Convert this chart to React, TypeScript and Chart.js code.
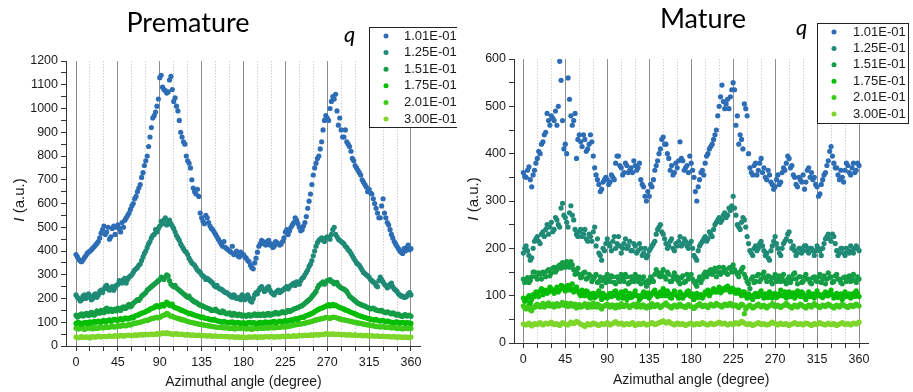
import React, { useEffect, useRef } from "react";
import { Chart, registerables } from "chart.js";

Chart.register(...registerables);

// ---------------- data ----------------
// Two interleaved azimuthal sampling grids: 0,3,...,360 (A) and 1.5,4.5,...,358.5 (B)
const ANGLES_A: number[] = Array.from({ length: 121 }, (_, i) => i * 3);
const ANGLES_B: number[] = Array.from({ length: 120 }, (_, i) => i * 3 + 1.5);

const X_TICK_LABELS = [0, 45, 90, 135, 180, 225, 270, 315, 360];
const X_MINOR_STEP = 15;
const Y_TICKS_PREMATURE = [0, 100, 200, 300, 400, 500, 600, 700, 800, 900, 1000, 1100, 1200];
const Y_TICKS_MATURE = [0, 100, 200, 300, 400, 500, 600];

const Q_LABELS = ["1.01E-01", "1.25E-01", "1.51E-01", "1.75E-01", "2.01E-01", "3.00E-01"];
const COLORS = ["#2d6db5", "#1f8a76", "#149d45", "#05bd05", "#3ccb18", "#7ed62a"];

// ---- Premature ----
const PRE_101_A = [
  385, 365, 355, 372, 390, 400, 412, 425, 440, 475, 505, 480, 450, 495, 470,
  510, 480, 500, 540, 560, 590, 620, 650, 680, 730, 780, 840, 920, 970, 1010,
  1130, 1090, 1075, 1070, 1135, 1030, 1010, 950, 880, 850, 780, 750, 665, 640, 630,
  540, 515, 540, 505, 490, 470, 450, 430, 440, 410, 400, 420, 390, 380, 395,
  385, 370, 355, 330, 350, 395, 430, 440, 425, 445, 430, 420, 435, 425, 440,
  480, 470, 500, 520, 530, 500, 490, 520, 580, 640, 720, 770, 800, 860, 950,
  960, 1000, 1050, 1060, 930, 910, 880, 860, 840, 790, 760, 740, 720, 690, 670,
  660, 640, 600, 560, 540, 620, 540, 510, 470, 440, 420, 400, 390, 400, 425,
  410,
];
const PRE_101_B = [
  375, 358, 362, 380, 395, 405, 418, 432, 455, 490, 470, 500, 460, 505, 500,
  495, 520, 530, 550, 575, 600, 630, 665, 710, 760, 800, 880, 960, 985, 1040,
  1140, 1080, 1065, 1120, 1080, 1045, 990, 900, 860, 800, 770, 700, 650, 660, 560,
  525, 550, 520, 495, 480, 460, 440, 420, 415, 405, 395, 385, 400, 375, 385,
  375, 360, 340, 325, 370, 420, 445, 430, 440, 425, 415, 440, 430, 430, 455,
  490, 485, 510, 540, 515, 485, 505, 545, 610, 680, 750, 790, 830, 910, 970,
  950, 1030, 1040, 990, 960, 880, 910, 850, 820, 780, 750, 730, 700, 680, 650,
  645, 620, 580, 540, 590, 560, 520, 490, 455, 430, 410, 395, 410, 415, 405,
];
const PRE_125_A = [
  215, 200, 195, 215, 205, 210, 200, 220, 215, 235, 240, 255, 235, 250, 245,
  260, 270, 280, 265, 290, 300, 320, 330, 345, 375, 400, 430, 455, 470, 480,
  505, 515, 540, 520, 515, 495, 465, 445, 420, 400, 385, 360, 345, 330, 315,
  300, 290, 285, 275, 265, 250, 245, 240, 230, 225, 215, 205, 210, 200, 195,
  210, 200, 205, 185, 215, 220, 245, 240, 235, 250, 225, 215, 230, 225, 235,
  245, 240, 255, 265, 270, 260, 285, 300, 320, 345, 380, 420, 445, 455, 440,
  460, 450, 490, 470, 450, 440, 430, 415, 400, 380, 360, 345, 330, 310, 300,
  290, 275, 265, 250, 290, 270, 255, 250, 265, 240, 230, 215, 210, 205, 220,
  215,
];
const PRE_125_B = [
  205, 190, 210, 200, 220, 195, 215, 205, 230, 225, 250, 240, 245, 235, 255,
  275, 265, 285, 280, 295, 310, 325, 340, 360, 390, 415, 440, 465, 490, 495,
  525, 530, 510, 530, 505, 480, 455, 430, 410, 395, 370, 350, 340, 320, 310,
  295, 280, 280, 270, 255, 255, 240, 235, 225, 220, 210, 215, 200, 205, 215,
  195, 215, 190, 200, 225, 235, 250, 230, 245, 235, 220, 225, 235, 230, 240,
  250, 250, 260, 255, 265, 275, 290, 310, 335, 360, 400, 435, 450, 445, 455,
  455, 470, 500, 460, 445, 435, 420, 405, 390, 370, 350, 340, 320, 305, 295,
  280, 270, 255, 275, 280, 260, 245, 260, 250, 235, 220, 210, 205, 210, 225,
];
const PRE_151_A = [
  130, 125, 135, 128, 138, 132, 140, 135, 145, 150, 140, 160, 150, 145, 155,
  160, 150, 165, 160, 175, 170, 185, 195, 200, 215, 225, 240, 250, 260, 270,
  280, 285, 290, 295, 260, 250, 245, 235, 225, 215, 205, 200, 190, 185, 175,
  170, 165, 160, 155, 150, 155, 145, 140, 145, 135, 140, 130, 135, 128, 132,
  130, 125, 132, 128, 135, 130, 128, 135, 130, 138, 132, 135, 140, 138, 145,
  140, 150, 148, 155, 160, 165, 170, 180, 190, 200, 215, 230, 255, 265, 260,
  275, 280, 270, 265, 255, 245, 240, 230, 210, 200, 190, 180, 175, 170, 165,
  160, 158, 155, 150, 148, 145, 140, 142, 135, 138, 130, 128, 125, 132, 128,
  125,
];
const PRE_151_B = [
  122, 132, 126, 136, 128, 142, 130, 148, 138, 145, 155, 145, 155, 150, 148,
  155, 162, 158, 170, 165, 180, 190, 192, 210, 220, 235, 245, 255, 265, 275,
  290, 280, 300, 275, 255, 255, 240, 230, 220, 210, 210, 195, 185, 180, 172,
  168, 162, 158, 150, 152, 148, 142, 148, 138, 138, 132, 138, 130, 134, 126,
  128, 130, 126, 132, 128, 134, 132, 128, 136, 130, 136, 142, 135, 142, 140,
  146, 145, 152, 158, 162, 168, 175, 185, 195, 208, 222, 245, 260, 270, 268,
  278, 272, 262, 268, 250, 242, 235, 220, 205, 195, 185, 178, 172, 168, 162,
  156, 160, 152, 148, 150, 142, 144, 138, 140, 132, 134, 126, 130, 126, 130,
];
const PRE_175_A = [
  95, 100, 92, 98, 95, 102, 98, 100, 105, 100, 108, 104, 110, 106, 112,
  108, 115, 112, 118, 115, 122, 125, 130, 135, 140, 145, 150, 158, 162, 170,
  165, 175, 178, 180, 170, 165, 160, 155, 150, 145, 140, 138, 132, 128, 125,
  120, 118, 115, 112, 110, 108, 105, 102, 104, 100, 98, 102, 96, 100, 95,
  98, 94, 100, 96, 98, 95, 100, 97, 102, 98, 100, 104, 100, 105, 102,
  108, 105, 110, 112, 115, 118, 122, 125, 130, 135, 140, 148, 155, 160, 165,
  170, 168, 175, 172, 165, 160, 155, 150, 145, 140, 135, 130, 125, 122, 118,
  115, 112, 110, 108, 105, 108, 102, 104, 100, 98, 102, 96, 100, 95, 98,
  95,
];
const PRE_175_B = [
  98, 94, 96, 100, 99, 96, 104, 102, 100, 106, 102, 108, 104, 112, 108,
  112, 110, 118, 114, 120, 118, 128, 132, 138, 142, 148, 155, 160, 168, 165,
  172, 168, 185, 172, 176, 162, 158, 152, 148, 142, 136, 134, 130, 126, 122,
  122, 116, 114, 110, 112, 106, 104, 100, 101, 99, 100, 97, 98, 97, 98,
  96, 97, 98, 99, 94, 98, 96, 100, 99, 101, 102, 98, 103, 101, 104,
  104, 108, 108, 114, 112, 120, 120, 128, 132, 138, 145, 152, 158, 162, 168,
  174, 172, 170, 168, 162, 158, 152, 148, 142, 138, 132, 128, 124, 120, 116,
  113, 110, 112, 106, 107, 104, 105, 101, 99, 101, 98, 99, 97, 99, 96,
];
const PRE_201_A = [
  75, 72, 78, 70, 74, 76, 72, 78, 75, 80, 77, 82, 79, 84, 80,
  86, 83, 88, 85, 90, 92, 95, 98, 100, 104, 108, 110, 115, 118, 122,
  120, 128, 132, 135, 125, 122, 118, 115, 110, 108, 104, 100, 98, 95, 92,
  90, 88, 86, 84, 82, 80, 78, 80, 76, 78, 74, 76, 72, 75, 73,
  76, 72, 74, 71, 75, 73, 76, 74, 77, 75, 78, 76, 80, 78, 82,
  80, 84, 85, 88, 90, 92, 94, 96, 100, 102, 106, 110, 112, 115, 118,
  120, 116, 122, 120, 116, 112, 110, 108, 105, 102, 100, 97, 95, 92, 90,
  88, 86, 84, 82, 80, 82, 78, 80, 76, 78, 74, 76, 72, 75, 73,
  74,
];
const PRE_201_B = [
  73, 76, 74, 73, 77, 74, 76, 74, 79, 76, 80, 78, 82, 80, 83,
  84, 87, 85, 89, 88, 94, 96, 100, 102, 106, 107, 113, 116, 120, 118,
  125, 130, 138, 128, 126, 120, 116, 112, 110, 105, 102, 99, 96, 94, 91,
  89, 87, 85, 83, 81, 79, 79, 77, 77, 75, 75, 73, 74, 74, 75,
  74, 73, 72, 73, 74, 75, 75, 76, 76, 77, 77, 78, 79, 80, 80,
  82, 83, 87, 89, 91, 93, 95, 98, 101, 104, 108, 111, 114, 116, 121,
  118, 120, 121, 118, 114, 111, 109, 106, 104, 101, 98, 96, 94, 91, 89,
  87, 85, 83, 81, 81, 80, 79, 78, 77, 76, 75, 74, 74, 74, 74,
];
const PRE_300_A = [
  38, 35, 40, 36, 38, 34, 40, 37, 42, 38, 41, 39, 43, 40, 44,
  41, 45, 42, 44, 46, 43, 47, 45, 48, 46, 49, 47, 50, 48, 52,
  50, 55, 52, 54, 51, 49, 52, 48, 50, 46, 48, 45, 47, 44, 46,
  43, 45, 42, 44, 41, 43, 40, 42, 39, 41, 38, 40, 37, 39, 36,
  38, 35, 39, 37, 40, 36, 39, 37, 40, 38, 41, 37, 40, 38, 42,
  39, 43, 40, 44, 41, 45, 43, 46, 44, 47, 45, 48, 46, 49, 50,
  52, 49, 51, 48, 50, 47, 49, 46, 48, 45, 47, 44, 46, 43, 45,
  42, 44, 41, 43, 40, 42, 39, 41, 38, 40, 37, 39, 36, 38, 35,
  38,
];
const PRE_300_B = [
  36, 38, 37, 39, 36, 38, 38, 40, 39, 40, 40, 41, 41, 42, 42,
  43, 43, 43, 45, 44, 45, 46, 47, 47, 48, 48, 49, 49, 50, 51,
  53, 53, 56, 52, 50, 51, 50, 49, 48, 47, 47, 46, 45, 45, 44,
  44, 43, 43, 42, 42, 41, 41, 40, 40, 39, 39, 38, 38, 37, 37,
  36, 37, 38, 38, 38, 38, 38, 39, 39, 39, 39, 39, 39, 40, 40,
  41, 41, 42, 42, 43, 44, 44, 45, 45, 46, 47, 47, 48, 48, 51,
  50, 50, 50, 49, 49, 48, 47, 47, 46, 46, 45, 45, 44, 44, 43,
  43, 42, 42, 41, 41, 40, 40, 39, 39, 38, 38, 37, 37, 37, 37,
];

// ---- Mature ----
const MAT_101_A = [
  360, 350, 372, 330, 365, 390, 400, 425, 445, 470, 480, 470, 460, 595, 470,
  420, 560, 480, 470, 390, 440, 415, 430, 410, 440, 395, 355, 335, 325, 345,
  345, 340, 350, 380, 395, 370, 360, 375, 365, 360, 375, 370, 345, 330, 300,
  310, 330, 365, 385, 410, 435, 420, 390, 375, 360, 370, 425, 385, 370, 360,
  380, 350, 300, 345, 365, 380, 400, 415, 430, 450, 500, 545, 495, 515, 520,
  550, 460, 420, 430, 505, 480, 370, 355, 380, 365, 390, 370, 345, 355, 335,
  330, 355, 340, 370, 380, 390, 375, 350, 330, 345, 355, 340, 370, 360, 350,
  330, 315, 345, 360, 385, 415, 380, 370, 345, 350, 365, 375, 355, 380, 365,
  375,
];
const MAT_101_B = [
  352, 365, 345, 355, 380, 405, 420, 440, 485, 460, 475, 490, 500, 555, 410,
  400, 515, 460, 485, 430, 425, 440, 405, 420, 425, 370, 345, 320, 340, 350,
  335, 355, 345, 395, 375, 355, 380, 360, 370, 385, 365, 380, 335, 310, 320,
  335, 345, 375, 400, 430, 420, 400, 365, 355, 380, 385, 390, 365, 375, 395,
  365, 320, 330, 360, 355, 395, 410, 420, 440, 480, 520, 510, 505, 495, 535,
  535, 480, 440, 410, 495, 400, 360, 375, 355, 380, 360, 350, 365, 340, 325,
  345, 335, 360, 365, 395, 370, 355, 335, 350, 340, 325, 365, 350, 345, 335,
  310, 335, 355, 375, 405, 395, 370, 355, 365, 340, 380, 360, 370, 360, 380,
];
const MAT_125_A = [
  190, 205, 185, 180, 215, 225, 210, 235, 240, 230, 255, 240, 260, 245, 295,
  265, 245, 290, 260, 230, 235, 225, 240, 215, 225, 235, 205, 190, 175, 195,
  220, 205, 215, 200, 225, 190, 210, 200, 215, 195, 205, 195, 200, 190, 180,
  195, 205, 215, 240, 250, 230, 210, 205, 220, 195, 205, 225, 210, 215, 200,
  215, 185, 175, 205, 215, 225, 220, 230, 240, 255, 265, 260, 275, 270, 280,
  310, 270, 245, 255, 260, 225, 195, 185, 205, 200, 215, 195, 190, 175, 205,
  225, 200, 185, 210, 220, 235, 200, 195, 190, 200, 195, 205, 190, 200, 185,
  205, 195, 200, 220, 230, 215, 225, 195, 190, 200, 185, 195, 205, 190, 205,
  195,
];
const MAT_125_B = [
  200, 195, 175, 200, 220, 215, 230, 225, 250, 245, 235, 265, 250, 285, 270,
  255, 275, 270, 240, 225, 240, 230, 220, 230, 215, 245, 220, 185, 200, 210,
  210, 195, 225, 210, 205, 200, 220, 205, 195, 210, 190, 210, 185, 200, 185,
  200, 210, 230, 245, 235, 220, 200, 215, 200, 210, 215, 205, 220, 205, 210,
  200, 180, 195, 210, 220, 215, 235, 225, 250, 260, 255, 270, 265, 285, 290,
  285, 250, 240, 265, 245, 210, 190, 200, 195, 210, 205, 185, 180, 195, 215,
  210, 190, 200, 215, 230, 215, 205, 185, 200, 190, 205, 195, 200, 195, 195,
  200, 185, 210, 225, 220, 230, 210, 185, 200, 190, 200, 190, 195, 200, 200,
];
const MAT_151_A = [
  135, 130, 128, 140, 150, 135, 145, 150, 140, 155, 148, 160, 155, 165, 170,
  160, 168, 172, 155, 150, 145, 140, 150, 138, 142, 135, 145, 130, 120, 138,
  145, 130, 140, 125, 135, 145, 130, 140, 128, 135, 145, 130, 125, 140, 120,
  128, 135, 145, 150, 140, 155, 135, 145, 130, 148, 140, 125, 142, 130, 135,
  145, 130, 120, 140, 135, 150, 145, 155, 150, 140, 160, 150, 155, 145, 160,
  165, 150, 140, 155, 145, 130, 115, 140, 130, 145, 135, 150, 130, 140, 125,
  145, 135, 130, 145, 125, 140, 135, 148, 125, 140, 130, 145, 135, 125, 140,
  130, 145, 135, 125, 148, 140, 130, 145, 135, 125, 140, 135, 130, 145, 128,
  135,
];
const MAT_151_B = [
  128, 138, 132, 150, 140, 148, 135, 145, 152, 142, 158, 150, 162, 158, 165,
  172, 160, 165, 145, 158, 138, 148, 135, 145, 130, 140, 128, 140, 132, 128,
  135, 142, 128, 140, 130, 138, 145, 125, 140, 130, 138, 140, 135, 128, 132,
  140, 130, 155, 142, 148, 140, 150, 130, 140, 135, 130, 138, 128, 145, 140,
  135, 125, 132, 128, 145, 140, 152, 145, 158, 150, 145, 160, 148, 158, 150,
  155, 145, 150, 160, 138, 125, 135, 128, 142, 130, 145, 138, 142, 130, 138,
  130, 142, 138, 130, 135, 128, 145, 135, 140, 128, 140, 135, 128, 138, 132,
  140, 128, 142, 135, 138, 128, 142, 135, 128, 138, 130, 142, 138, 132, 140,
];
const MAT_175_A = [
  95, 90, 100, 92, 98, 105, 110, 102, 112, 108, 115, 105, 118, 112, 120,
  110, 122, 115, 108, 118, 105, 112, 100, 108, 95, 105, 98, 110, 92, 100,
  95, 105, 100, 110, 95, 108, 100, 92, 105, 98, 110, 100, 95, 108, 100,
  95, 105, 112, 98, 108, 115, 100, 105, 95, 110, 100, 108, 95, 102, 110,
  98, 92, 105, 100, 95, 108, 112, 105, 115, 108, 118, 110, 112, 120, 108,
  115, 105, 112, 100, 108, 95, 100, 92, 105, 98, 110, 95, 102, 108, 95,
  105, 98, 112, 100, 95, 108, 102, 95, 110, 98, 105, 92, 108, 100, 95,
  110, 102, 96, 108, 100, 112, 95, 105, 100, 92, 108, 100, 95, 105, 110,
  98,
];
const MAT_175_B = [
  88, 96, 85, 102, 108, 98, 115, 108, 105, 118, 110, 112, 108, 122, 115,
  118, 112, 125, 115, 110, 100, 105, 110, 98, 104, 96, 105, 100, 105, 96,
  102, 98, 108, 100, 104, 95, 110, 100, 96, 104, 100, 92, 102, 98, 106,
  100, 108, 102, 105, 100, 108, 110, 96, 104, 102, 95, 104, 100, 108, 100,
  104, 98, 96, 102, 100, 104, 100, 110, 108, 112, 106, 115, 118, 112, 116,
  108, 112, 104, 108, 100, 104, 96, 102, 98, 106, 100, 104, 96, 100, 104,
  96, 104, 100, 108, 102, 98, 106, 100, 102, 108, 96, 100, 98, 104, 102,
  100, 98, 104, 100, 106, 102, 100, 96, 104, 100, 98, 104, 100, 98, 104,
];
const MAT_201_A = [
  78, 72, 80, 68, 75, 82, 76, 84, 78, 85, 80, 76, 83, 79, 86,
  80, 77, 84, 79, 74, 81, 77, 83, 75, 79, 85, 76, 80, 72, 78,
  82, 76, 80, 74, 79, 83, 77, 81, 75, 80, 78, 84, 76, 80, 74,
  79, 83, 77, 81, 75, 80, 85, 78, 74, 80, 76, 82, 78, 75, 81,
  77, 73, 79, 83, 77, 80, 75, 82, 78, 84, 80, 76, 82, 79, 84,
  78, 80, 75, 82, 62, 76, 80, 74, 78, 82, 76, 80, 74, 79, 83,
  77, 80, 75, 79, 84, 78, 74, 80, 76, 82, 78, 74, 80, 76, 83,
  79, 75, 80, 77, 82, 78, 74, 80, 76, 82, 78, 75, 80, 77, 82,
  78,
];
const MAT_201_B = [
  74, 77, 70, 76, 80, 78, 80, 76, 82, 78, 82, 80, 78, 82, 80,
  84, 80, 78, 82, 78, 76, 80, 78, 82, 76, 80, 82, 75, 78, 80,
  78, 80, 76, 80, 76, 78, 80, 78, 78, 82, 76, 80, 80, 76, 78,
  76, 80, 80, 78, 78, 82, 80, 76, 78, 78, 80, 78, 76, 79, 78,
  76, 76, 80, 80, 78, 78, 79, 80, 80, 81, 78, 80, 80, 82, 80,
  80, 77, 79, 80, 72, 78, 77, 76, 80, 79, 78, 77, 77, 80, 80,
  79, 77, 78, 81, 80, 76, 78, 78, 80, 80, 76, 78, 78, 80, 80,
  77, 78, 78, 80, 80, 76, 78, 78, 79, 80, 77, 78, 78, 80, 80,
];
const MAT_300_A = [
  40, 38, 42, 36, 41, 39, 43, 38, 42, 40, 44, 39, 41, 37, 43,
  40, 38, 44, 41, 46, 42, 39, 35, 41, 38, 42, 40, 37, 41, 39,
  43, 38, 41, 45, 40, 42, 38, 41, 39, 43, 37, 41, 39, 42, 38,
  40, 43, 39, 41, 44, 47, 42, 45, 41, 38, 42, 39, 41, 37, 40,
  42, 38, 41, 39, 43, 40, 38, 42, 39, 41, 44, 40, 42, 38, 41,
  39, 43, 40, 46, 42, 39, 41, 37, 40, 43, 39, 41, 38, 40, 44,
  41, 38, 42, 39, 41, 37, 40, 43, 39, 41, 38, 42, 40, 37, 41,
  39, 43, 40, 38, 42, 39, 41, 37, 40, 43, 39, 41, 38, 42, 40,
  44,
];
const MAT_300_B = [
  39, 40, 39, 39, 40, 41, 40, 40, 41, 42, 41, 40, 39, 40, 41,
  39, 41, 42, 43, 44, 40, 37, 38, 39, 40, 41, 38, 39, 40, 41,
  40, 40, 43, 42, 41, 40, 40, 40, 41, 40, 39, 40, 41, 40, 39,
  41, 41, 40, 43, 45, 44, 44, 43, 40, 40, 41, 40, 39, 39, 41,
  40, 40, 40, 41, 41, 39, 40, 40, 40, 42, 42, 41, 40, 40, 40,
  41, 41, 43, 44, 40, 40, 39, 39, 41, 41, 40, 39, 39, 42, 42,
  40, 40, 40, 40, 39, 39, 41, 41, 40, 40, 40, 41, 39, 39, 40,
  41, 41, 39, 40, 40, 40, 39, 39, 41, 41, 40, 40, 40, 41, 42,
];

const PREMATURE_SERIES: [number[], number[]][] = [
  [PRE_101_A, PRE_101_B], [PRE_125_A, PRE_125_B], [PRE_151_A, PRE_151_B],
  [PRE_175_A, PRE_175_B], [PRE_201_A, PRE_201_B], [PRE_300_A, PRE_300_B],
];
const MATURE_SERIES: [number[], number[]][] = [
  [MAT_101_A, MAT_101_B], [MAT_125_A, MAT_125_B], [MAT_151_A, MAT_151_B],
  [MAT_175_A, MAT_175_B], [MAT_201_A, MAT_201_B], [MAT_300_A, MAT_300_B],
];

// ---------------- layout ----------------
const TICK_FONT = { family: '"Liberation Sans", Arial, sans-serif', size: 12.5 };
const LABEL_FAMILY = '"Liberation Sans", Arial, sans-serif';
const TITLE_FAMILY = 'Lato, "Open Sans", sans-serif';
const POINT_RADIUS = 2.6;

type Geom = {
  left: number; width: number; height: number;
  padTop: number; padRight: number; yAxisW: number; xAxisH: number;
  xMin: number; xMax: number;
  titleX: number; titleY: number; qX: number; qY: number;
  legX: number; legY: number; legW: number; legH: number;
  legRow0: number; legStep: number; legMarkX: number; legTextX: number;
  yTitleX: number; yTitleY: number; xTitleY: number;
};

const GEOM_PRE: Geom = {
  left: 0, width: 457, height: 392,
  padTop: 61, padRight: 37, yAxisW: 66, xAxisH: 46,
  xMin: -10.75, xMax: 369.7,
  titleX: 188, titleY: 32, qX: 344, qY: 42,
  legX: 369, legY: 27, legW: 100, legH: 100,
  legRow0: 36, legStep: 16.6, legMarkX: 386, legTextX: 404,
  yTitleX: 20, yTitleY: 200, xTitleY: 382,
};

const GEOM_MAT: Geom = {
  left: 462, width: 451, height: 392,
  padTop: 59, padRight: 45, yAxisW: 52, xAxisH: 49,
  xMin: -10, xMax: 369.6,
  titleX: 241, titleY: 28, qX: 334, qY: 35,
  legX: 355, legY: 23, legW: 91, legH: 100,
  legRow0: 32, legStep: 16.4, legMarkX: 372, legTextX: 391,
  yTitleX: 12, yTitleY: 199, xTitleY: 380,
};

type PanelProps = { title: string; series: [number[], number[]][]; yTicks: number[]; geom: Geom };

function Panel({ title, series, yTicks, geom }: PanelProps) {
  const ref = useRef<HTMLCanvasElement | null>(null);

  useEffect(() => {
    const canvas = ref.current;
    if (!canvas) return;
    const g = geom;
    const xGrid: number[] = [];
    for (let v = 0; v <= 360; v += X_MINOR_STEP) xGrid.push(v);
    const yMax = yTicks[yTicks.length - 1];
    const yStep = yTicks[1] - yTicks[0];
    const yGrid: number[] = [];
    for (let v = 0; v <= yMax; v += yStep / 2) yGrid.push(v);

    const decor = {
      id: "decor",
      afterDraw(chart: any) {
        const ctx: CanvasRenderingContext2D = chart.ctx;
        ctx.save();
        // title
        ctx.fillStyle = "#000";
        ctx.font = `27px ${TITLE_FAMILY}`;
        ctx.textAlign = "center";
        ctx.textBaseline = "alphabetic";
        ctx.fillText(title, g.titleX, g.titleY);
        // q
        ctx.font = `italic 22px ${TITLE_FAMILY}`;
        ctx.textAlign = "left";
        ctx.fillText("q", g.qX, g.qY);
        // legend box
        ctx.fillStyle = "#fff";
        ctx.fillRect(g.legX, g.legY, g.legW, g.legH);
        ctx.strokeStyle = "#222";
        ctx.lineWidth = 1;
        ctx.strokeRect(g.legX + 0.5, g.legY + 0.5, g.legW, g.legH);
        ctx.font = `13px ${LABEL_FAMILY}`;
        ctx.textBaseline = "middle";
        Q_LABELS.forEach((lab, i) => {
          const y = g.legRow0 + i * g.legStep;
          ctx.fillStyle = COLORS[i];
          ctx.beginPath();
          ctx.arc(g.legMarkX, y, 2.5, 0, Math.PI * 2);
          ctx.fill();
          ctx.fillStyle = "#1a1a1a";
          ctx.fillText(lab, g.legTextX, y);
        });
        // x title
        const xs = chart.scales.x;
        const cx = (xs.getPixelForValue(0) + xs.getPixelForValue(360)) / 2;
        ctx.fillStyle = "#1a1a1a";
        ctx.font = `14px ${LABEL_FAMILY}`;
        ctx.textAlign = "center";
        ctx.textBaseline = "middle";
        ctx.fillText("Azimuthal angle (degree)", cx, g.xTitleY);
        // y title with italic I
        ctx.translate(g.yTitleX, g.yTitleY);
        ctx.rotate(-Math.PI / 2);
        const f1 = `italic 15px ${LABEL_FAMILY}`;
        const f2 = `15px ${LABEL_FAMILY}`;
        ctx.font = f1;
        const w1 = ctx.measureText("I").width;
        ctx.font = f2;
        const w2 = ctx.measureText(" (a.u.)").width;
        const start = -(w1 + w2) / 2;
        ctx.textAlign = "left";
        ctx.font = f1;
        ctx.fillText("I", start, 0);
        ctx.font = f2;
        ctx.fillText(" (a.u.)", start + w1, 0);
        ctx.restore();
      },
    };

    const datasets = series.map(([valsA, valsB], i) => {
      const pts = valsA
        .map((v, j) => ({ x: ANGLES_A[j], y: v }))
        .concat(valsB.map((v, j) => ({ x: ANGLES_B[j], y: v })))
        .sort((a, b) => a.x - b.x);
      return {
        label: Q_LABELS[i],
        data: pts,
        backgroundColor: COLORS[i],
        borderColor: COLORS[i],
        pointRadius: POINT_RADIUS,
        pointBorderWidth: 0,
        pointHoverRadius: POINT_RADIUS,
        showLine: false,
      };
    });

    const chart = new Chart(canvas, {
      type: "scatter",
      data: { datasets },
      options: {
        responsive: false,
        animation: false,
        events: [],
        layout: { padding: { left: 0, right: g.padRight, top: g.padTop, bottom: 0 } },
        plugins: {
          legend: { display: false },
          tooltip: { enabled: false },
          title: { display: false },
        },
        scales: {
          x: {
            type: "linear",
            min: g.xMin,
            max: g.xMax,
            afterFit: (s: any) => { s.height = g.xAxisH; },
            afterBuildTicks: (s: any) => { s.ticks = xGrid.map((v) => ({ value: v })); },
            ticks: {
              autoSkip: false,
              maxRotation: 0,
              padding: 4,
              color: "#1a1a1a",
              font: TICK_FONT,
              callback: (v: any) => (X_TICK_LABELS.includes(Number(v)) ? String(v) : ""),
            },
            grid: {
              drawOnChartArea: true,
              drawTicks: true,
              tickLength: 5,
              lineWidth: 1,
              color: (c: any) => (c.tick && c.tick.value % 45 === 0 ? "#8e8e8e" : "#cfcfcf"),
              tickColor: "#333",
            },
            border: {
              display: true,
              color: "#333",
              width: 1,
              dash: (c: any) => (c.tick && c.tick.value % 45 !== 0 ? [1.5, 1.5] : []),
            },
          },
          y: {
            type: "linear",
            min: 0,
            max: yMax,
            afterFit: (s: any) => { s.width = g.yAxisW; },
            afterBuildTicks: (s: any) => { s.ticks = yGrid.map((v) => ({ value: v })); },
            ticks: {
              autoSkip: false,
              padding: 3,
              color: "#1a1a1a",
              font: TICK_FONT,
              callback: (v: any) => (yTicks.includes(Number(v)) ? String(v) : ""),
            },
            grid: {
              drawOnChartArea: false,
              drawTicks: true,
              tickLength: 5,
              tickColor: "#333",
            },
            border: { display: true, color: "#333", width: 1 },
          },
        },
      },
      plugins: [decor],
    } as any);

    return () => chart.destroy();
  }, [title, series, yTicks, geom]);

  return (
    <canvas
      ref={ref}
      width={geom.width}
      height={geom.height}
      style={{
        position: "absolute",
        left: geom.left,
        top: 0,
        width: geom.width,
        height: geom.height,
      }}
    />
  );
}

export default function App() {
  return (
    <div
      style={{
        position: "fixed",
        left: 0,
        top: 0,
        width: 913,
        height: 392,
        background: "#fff",
        overflow: "hidden",
      }}
    >
      <Panel title="Premature" series={PREMATURE_SERIES} yTicks={Y_TICKS_PREMATURE} geom={GEOM_PRE} />
      <Panel title="Mature" series={MATURE_SERIES} yTicks={Y_TICKS_MATURE} geom={GEOM_MAT} />
    </div>
  );
}
